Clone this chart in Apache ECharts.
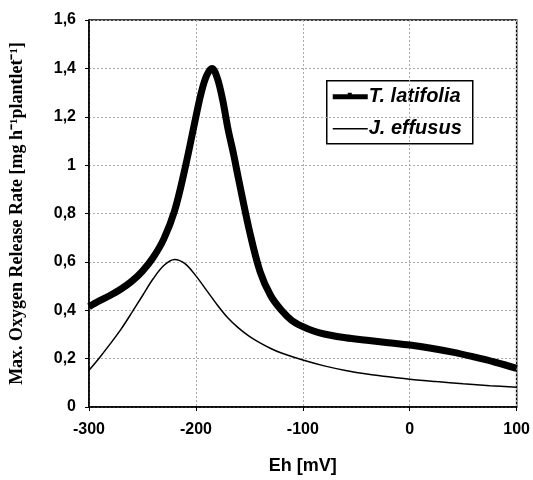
<!DOCTYPE html>
<html>
<head>
<meta charset="utf-8">
<script src="https://cdn.jsdelivr.net/npm/echarts@6/dist/echarts.min.js"></script>
<style>
  html, body { margin: 0; padding: 0; background: #fff; }
  #chart { width: 533px; height: 480px; }
</style>
</head>
<body>
<div id="chart"></div>
<script>
// Eh values (mV) and oxygen release rates for each species
const latifoliaEh = [-300, -290, -280, -270, -260, -250, -240, -230, -220, -210, -200, -195, -190, -185, -180, -175, -170, -165, -160, -150, -140, -130, -120, -110, -100, -90, -80, -60, -40, -20, 0, 20, 40, 60, 80, 100];
const latifoliaRate = [0.415, 0.44, 0.462, 0.488, 0.52, 0.562, 0.618, 0.695, 0.81, 0.99, 1.20, 1.30, 1.37, 1.40, 1.36, 1.27, 1.15, 1.05, 0.94, 0.73, 0.56, 0.46, 0.40, 0.357, 0.332, 0.314, 0.302, 0.286, 0.276, 0.266, 0.256, 0.243, 0.227, 0.207, 0.185, 0.16];

const effususEh = [-300, -290, -280, -270, -260, -250, -240, -230, -220, -210, -200, -190, -180, -170, -160, -150, -140, -130, -120, -100, -80, -60, -40, -20, 0, 25, 50, 75, 100];
const effususRate = [0.152, 0.205, 0.262, 0.322, 0.39, 0.46, 0.53, 0.585, 0.61, 0.592, 0.542, 0.482, 0.422, 0.368, 0.326, 0.292, 0.265, 0.242, 0.223, 0.194, 0.17, 0.151, 0.136, 0.125, 0.115, 0.105, 0.096, 0.088, 0.082];

const seriesNames = ['T. latifolia', 'J. effusus'];
const lineWidths = [7, 1.5];

const pairs = (xs, ys) => xs.map((x, i) => [x, ys[i]]);
const commaFmt = v => String(Math.round(v * 10) / 10).replace('.', ',');

const legendFont = 'italic bold 20px "Liberation Sans"';

const chart = echarts.init(document.getElementById('chart'), null, { renderer: 'canvas' });
chart.setOption({
  animation: false,
  backgroundColor: '#fff',
  grid: {
    left: 81, right: 14, top: 20, bottom: 69,
    show: true, borderColor: '#000', borderWidth: 1.5, backgroundColor: 'transparent'
  },
  xAxis: {
    type: 'value', min: -300, max: 100, interval: 100,
    name: 'Eh [mV]', nameLocation: 'middle', nameGap: 50,
    nameTextStyle: { fontFamily: 'Liberation Sans', fontWeight: 'bold', fontSize: 18, color: '#000' },
    axisLine: { onZero: false, lineStyle: { color: '#000', width: 1.5 } },
    axisTick: { show: true, length: 4, lineStyle: { color: '#000' } },
    axisLabel: { fontFamily: 'Liberation Sans', fontWeight: 'bold', fontSize: 16, color: '#000', margin: 15 },
    splitLine: { show: true, lineStyle: { color: '#aaa', type: [2, 2], width: 1 } }
  },
  yAxis: {
    type: 'value', min: 0, max: 1.6, interval: 0.2,
    name: 'Max. Oxygen Release Rate [mg h\u207B\u00B9plantlet\u207B\u00B9]',
    nameLocation: 'middle', nameGap: 63,
    nameTextStyle: { fontFamily: 'Liberation Serif', fontWeight: 'bold', fontSize: 18, color: '#000' },
    axisLine: { show: true, onZero: false, lineStyle: { color: '#000', width: 1.5 } },
    axisTick: { show: true, length: 4, lineStyle: { color: '#000' } },
    axisLabel: { fontFamily: 'Liberation Sans', fontWeight: 'bold', fontSize: 16, color: '#000', margin: 13, formatter: commaFmt },
    splitLine: { show: true, lineStyle: { color: '#aaa', type: [2, 2], width: 1 } }
  },
  // Boxed key drawn with graphic elements so each sample keeps its own stroke width
  graphic: [
    {
      type: 'group', left: 326, top: 80,
      children: [
        { type: 'rect', shape: { x: 0, y: 0, width: 146, height: 63 },
          style: { fill: '#fff', stroke: '#000', lineWidth: 1.5 } },
        { type: 'line', shape: { x1: 6, y1: 16, x2: 41, y2: 16 },
          style: { stroke: '#000', lineWidth: 5 } },
        { type: 'rect', shape: { x: 21, y: 12, width: 4, height: 4 }, style: { fill: '#000' } },
        { type: 'text', x: 42, y: 16,
          style: { text: seriesNames[0], font: legendFont, fill: '#000', textVerticalAlign: 'middle' } },
        { type: 'line', shape: { x1: 6, y1: 48, x2: 41, y2: 48 },
          style: { stroke: '#000', lineWidth: lineWidths[1] } },
        { type: 'text', x: 42, y: 48,
          style: { text: seriesNames[1], font: legendFont, fill: '#000', textVerticalAlign: 'middle' } }
      ]
    }
  ],
  series: [
    {
      name: seriesNames[0], type: 'line', smooth: 0.35, showSymbol: false, symbol: 'none',
      data: pairs(latifoliaEh, latifoliaRate),
      lineStyle: { color: '#000', width: lineWidths[0] }, itemStyle: { color: '#000' }, z: 3
    },
    {
      name: seriesNames[1], type: 'line', smooth: 0.35, showSymbol: false, symbol: 'none',
      data: pairs(effususEh, effususRate),
      lineStyle: { color: '#000', width: lineWidths[1] }, itemStyle: { color: '#000' }, z: 2
    }
  ]
});
</script>
</body>
</html>
